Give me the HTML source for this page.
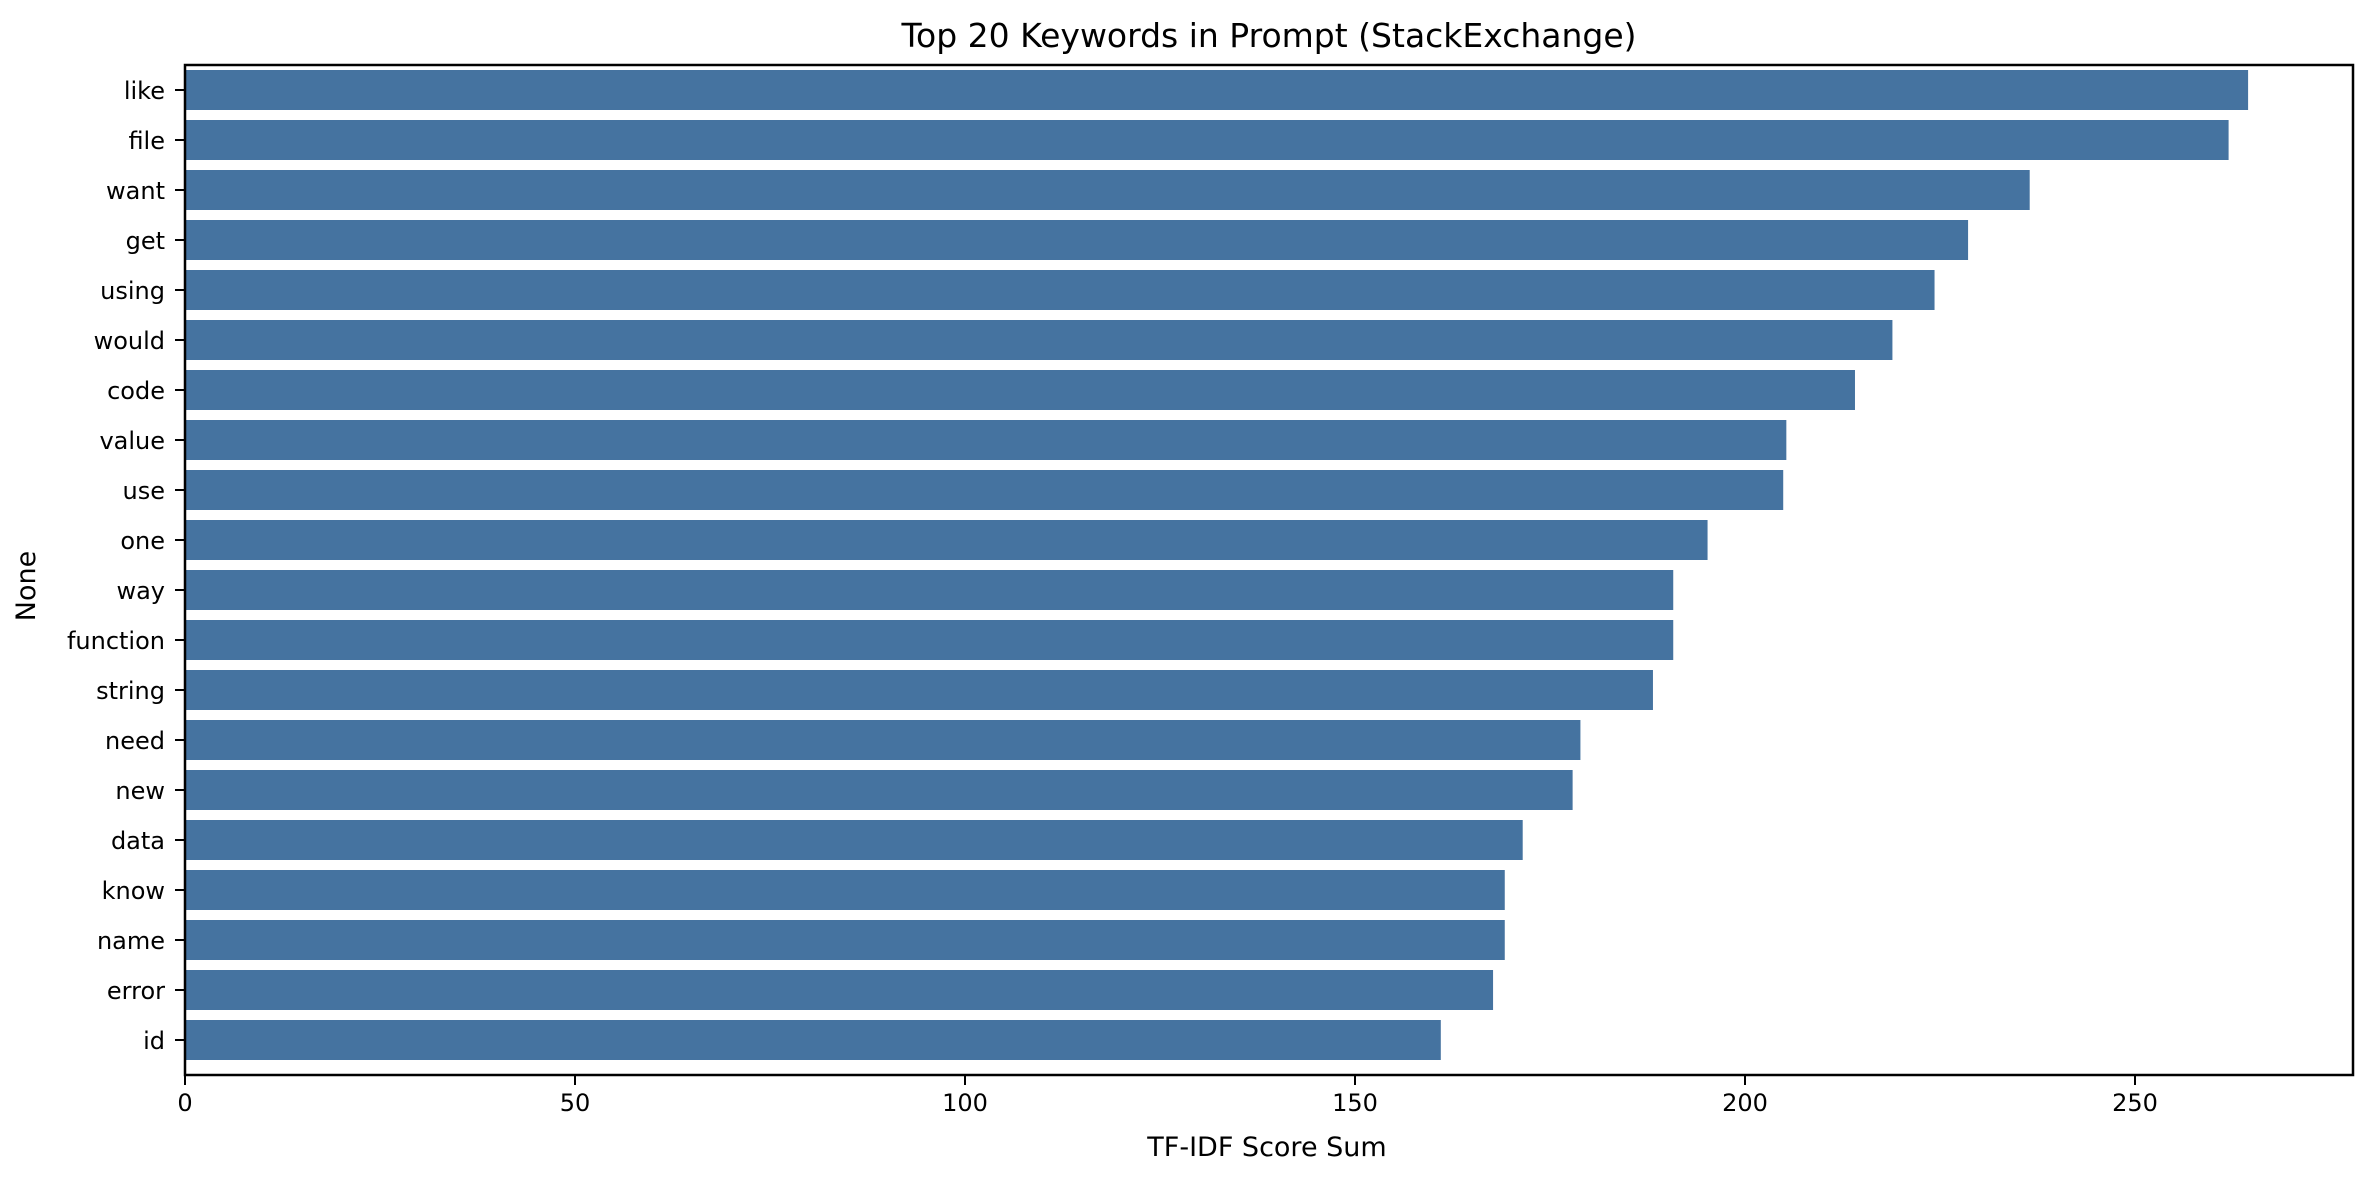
<!DOCTYPE html>
<html><head><style>body{margin:0;background:#fff}</style></head><body>
<svg width="2374" height="1174" xmlns="http://www.w3.org/2000/svg" font-family="'DejaVu Sans','Liberation Sans',sans-serif" fill="#262626">
<rect width="2374" height="1174" fill="#fff"/>
<g id="bars" fill="#4573a0"></g>
<rect x="185" y="65" width="2168" height="1010" fill="none" stroke="#000" stroke-width="2.5"/>
<text x="1269" y="47" font-size="33" text-anchor="middle" fill="#000">Top 20 Keywords in Prompt (StackExchange)</text>
<text x="1267" y="1156" font-size="27" text-anchor="middle" fill="#000">TF-IDF Score Sum</text>
<text transform="translate(35,586) rotate(-90)" font-size="27" text-anchor="middle" fill="#000">None</text>
<g id="yt"></g><g id="xt"></g>
<script>
var d=[["like",264.5],["file",262],["want",236.5],["get",228.6],["using",224.3],["would",218.9],["code",214.1],["value",205.3],["use",204.9],["one",195.2],["way",190.8],["function",190.8],["string",188.2],["need",178.9],["new",177.9],["data",171.5],["know",169.2],["name",169.2],["error",167.7],["id",161.0]];
var ns="http://www.w3.org/2000/svg",b=document.getElementById("bars"),yt=document.getElementById("yt"),xt=document.getElementById("xt");
function el(p,t,a,s){var e=document.createElementNS(ns,t);for(var k in a)e.setAttribute(k,a[k]);if(s!==undefined)e.textContent=s;p.appendChild(e);}
d.forEach(function(r,i){var c=90+i*50;
el(b,"rect",{x:186,y:c-20,width:r[1]*7.8-1,height:40});
el(yt,"line",{x1:175,x2:185,y1:c,y2:c,stroke:"#000","stroke-width":2});
el(yt,"text",{x:165,y:c+9,"font-size":24,"text-anchor":"end",fill:"#000"},r[0]);});
[0,50,100,150,200,250].forEach(function(v){var x=185+v*7.8;
el(xt,"line",{x1:x,x2:x,y1:1075,y2:1085,stroke:"#000","stroke-width":2});
el(xt,"text",{x:x,y:1111,"font-size":24,"text-anchor":"middle",fill:"#000"},String(v));});
</script>
</svg>
</body></html>
